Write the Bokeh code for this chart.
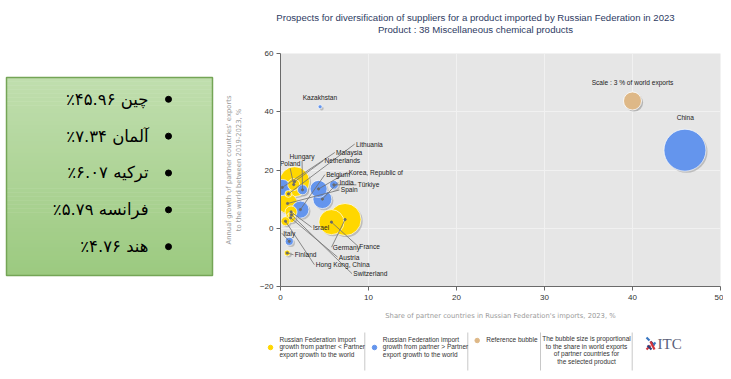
import math
from bokeh.plotting import figure
from bokeh.layouts import row, column
from bokeh.models import ColumnDataSource, Range1d, FixedTicker
from bokeh.embed import file_html
from bokeh.resources import INLINE
from bokeh.core.properties import value

# ---------------- data ----------------
TITLE_LINES = [
    "Prospects for diversification of suppliers for a product imported by Russian Federation in 2023",
    "Product : 38 Miscellaneous chemical products",
]
X_LABEL = "Share of partner countries in Russian Federation's imports, 2023, %"
Y_LABEL = "Annual growth of partner countries' exports\nto the world between 2019-2023, %"
X_TICKS = [0, 10, 20, 30, 40, 50]
Y_TICKS = [-20, 0, 20, 40, 60]

countries = ["China", "Germany", "Netherlands", "France", "Spain", "India", "Korea, Republic of",
             "Belgium", "Malaysia", "Poland", "Israel", "Hungary", "Austria", "Hong Kong, China",
             "Switzerland", "Türkiye", "Italy", "Lithuania", "Finland", "Kazakhstan"]
share_in_imports = [45.96, 7.34, 1.6, 5.79, 0.8, 4.76, 4.33, 2.26, 0.2, 1.5, 1.2, 2.5, 1.15, 0.57,
                    1.25, 6.07, 1.0, 0.9, 0.76, 4.5]
export_growth = [26.8, 3.0, 16.0, 2.1, 8.5, 10.0, 13.5, 6.4, 14.0, 15.0, 5.6, 13.2, 3.6, 2.4,
                 4.6, 14.9, -4.5, 11.8, -8.5, 41.7]
world_share = [16.3, 9.5, 8.3, 5.8, 3.7, 3.3, 2.7, 2.7, 2.4, 1.33, 1.33, 0.93, 0.93, 0.75,
               0.4, 0.7, 0.6, 0.45, 0.33, 0.15]
group = ["gt", "lt", "lt", "lt", "lt", "gt", "gt", "gt", "gt", "lt", "lt", "gt", "lt", "lt",
         "lt", "gt", "gt", "lt", "lt", "gt"]
# label anchor (data units) and style: "left" = leader line + left aligned, "top" = centred above
label_x = [46.0, 5.95, 5.01, 8.96, 6.85, 6.7, 7.75, 5.19, 6.32, 1.1, 3.69, 2.45, 6.63, 4.0,
           8.28, 8.77, 0.3, 8.58, 1.63, 4.48]
label_y = [37.9, -6.5, 23.2, -6.2, 13.15, 15.75, 19.2, 18.4, 26.0, 22.2, 0.35, 24.7, -9.9, -12.5,
           -15.6, 14.9, -1.7, 28.9, -9.1, 44.8]
label_mode = ["top", "left", "left", "left", "left", "left", "left", "left", "left", "center",
              "left", "center", "left", "left", "left", "left", "left", "left", "left", "top"]

REF_SHARE = 3.0
REF_X, REF_Y = 40.0, 43.7
REF_TEXT = "Scale : 3 % of world exports"

fa_names = ["چین", "آلمان", "ترکیه", "فرانسه", "هند"]
fa_values = [45.96, 7.34, 6.07, 5.79, 4.76]

LEGEND_1 = ["Russian Federation import", "growth from partner < Partner", "export growth to the world"]
LEGEND_2 = ["Russian Federation import", "growth from partner > Partner", "export growth to the world"]
LEGEND_3 = ["Reference bubble"]
LEGEND_4 = ["The bubble size is proportional", "to the share in world exports",
            "of partner countries for", "the selected product"]

# ---------------- style / layout (page pixels) ----------------
YELLOW = "#FFD700"
BLUE = "#6495ED"
TAN = "#DEB887"
COLORS = {"lt": YELLOW, "gt": BLUE}
NARROW = "'Liberation Sans Narrow', 'Liberation Sans', sans-serif"
REF_DIAM = 18.0

LEFT_W, RIGHT_W = 222, 501
FULL_W = LEFT_W + RIGHT_W
TITLE_H, MAIN_H, LEGEND_H = 40, 282, 56
BL, BR, BT, BB = 55, 3, 13, 35
FRAME_W = RIGHT_W - BL - BR
FRAME_H = MAIN_H - BT - BB
X0, X1 = 0, 50
Y0, Y1 = -20, 60
ROW_TOP = TITLE_H
LEG_TOP = TITLE_H + MAIN_H


def blank(w, h, xr, yr, **kw):
    f = figure(width=w, height=h, x_range=xr, y_range=yr, output_backend="svg",
               toolbar_location=None, x_axis_location=None, y_axis_location=None, **kw)
    f.grid.visible = False
    f.outline_line_color = None
    f.background_fill_color = "white"
    f.border_fill_color = "white"
    return f


# ---------------- left panel (Persian list) ----------------
left = blank(LEFT_W, MAIN_H, Range1d(0, LEFT_W),
             Range1d(ROW_TOP + MAIN_H - BB, ROW_TOP + BT),
             min_border_left=0, min_border_right=0, min_border_top=BT, min_border_bottom=BB)
bx0, bx1, by0, by1 = 6, 212, 77, 276
n_strips = 50
top_c = (192, 222, 174)
bot_c = (156, 202, 128)
qs = dict(left=[], right=[], top=[], bottom=[], color=[])
for i in range(n_strips):
    t = i / (n_strips - 1)
    c = tuple(int(round(top_c[k] + (bot_c[k] - top_c[k]) * t)) for k in range(3))
    qs["left"].append(bx0)
    qs["right"].append(bx1)
    qs["top"].append(by0 + (by1 - by0) * i / n_strips)
    qs["bottom"].append(by0 + (by1 - by0) * (i + 1) / n_strips + 0.5)
    qs["color"].append("#%02x%02x%02x" % c)
left.quad(left="left", right="right", top="top", bottom="bottom", color="color",
          source=ColumnDataSource(qs), line_color=None)
left.quad(left=[bx0], right=[bx1], top=[by0], bottom=[by1], fill_color=None,
          line_color="#74a556", line_width=1.5)

fa_digits = str.maketrans("0123456789", "۰۱۲۳۴۵۶۷۸۹")
fa_text = ["\u200f" + n + " " + f"{v:.2f}".translate(fa_digits) + "٪" + "\u200f"
           for n, v in zip(fa_names, fa_values)]
row_y = [99 + 37.0 * i for i in range(len(fa_names))]
left.scatter(x=[168] * len(row_y), y=row_y, size=6, color="black")
left.text(x=[148] * len(row_y), y=row_y, text=fa_text, text_align="right",
          text_baseline="middle", text_font=value("DejaVu Sans"), text_font_size="16.5px",
          text_color="black")

# ---------------- title ----------------
tfig = blank(FULL_W, TITLE_H, Range1d(0, FULL_W), Range1d(TITLE_H, 0), min_border=0)
tfig.text(x=[475, 475], y=[17, 29], text=TITLE_LINES, text_align="center", text_baseline="middle",
          text_font=value("Liberation Sans"), text_font_size="9.6px", text_color="#2e3b63")

# ---------------- main bubble chart ----------------
p = figure(width=RIGHT_W, height=MAIN_H, x_range=Range1d(X0, X1), y_range=Range1d(Y0, Y1),
           output_backend="svg", toolbar_location=None,
           min_border_left=BL, min_border_right=BR, min_border_top=BT, min_border_bottom=BB)
p.background_fill_color = "#e6e6e6"
p.border_fill_color = "white"
p.outline_line_color = None
p.grid.grid_line_color = "#f1f1f1"
p.grid.grid_line_width = 1
p.xaxis.ticker = FixedTicker(ticks=X_TICKS)
p.yaxis.ticker = FixedTicker(ticks=Y_TICKS)
for ax in (p.xaxis, p.yaxis):
    ax.minor_tick_line_color = None
    ax.major_tick_in = 0
    ax.major_tick_out = 4
    ax.major_tick_line_color = "#666666"
    ax.axis_line_color = "#6a6a6a"
    ax.major_label_text_font = NARROW
    ax.major_label_text_font_size = "8px"
    ax.major_label_text_color = "#333333"
    ax.axis_label_text_font = "DejaVu Sans"
    ax.axis_label_text_font_size = "6.8px"
    ax.axis_label_text_font_style = "normal"
    ax.axis_label_text_color = "#9a9a9a"
p.xaxis.axis_label = X_LABEL
p.yaxis.axis_label = Y_LABEL
p.xaxis.axis_label_standoff = 9
p.yaxis.axis_label_standoff = 14
p.xaxis.major_label_standoff = 4
p.yaxis.major_label_standoff = 3

sizes = [REF_DIAM * math.sqrt(w / REF_SHARE) for w in world_share]
order = sorted(range(len(countries)), key=lambda i: -sizes[i])
px_x = (X1 - X0) / FRAME_W
px_y = (Y1 - Y0) / FRAME_H
sh = 1.6
bub = ColumnDataSource(dict(
    x=[share_in_imports[i] for i in order],
    y=[export_growth[i] for i in order],
    sx=[share_in_imports[i] + sh * px_x for i in order],
    sy=[export_growth[i] - sh * px_y for i in order],
    size=[sizes[i] for i in order],
    color=[COLORS[group[i]] for i in order],
))
p.scatter(x=[REF_X + sh * px_x], y=[REF_Y - sh * px_y], size=REF_DIAM, fill_color="#8a8a8a",
          fill_alpha=0.55, line_color=None)
p.scatter(x="sx", y="sy", size="size", source=bub, fill_color="#8a8a8a", fill_alpha=0.45,
          line_color=None)
p.scatter(x=[REF_X], y=[REF_Y], size=REF_DIAM, fill_color=TAN, line_color="white",
          line_width=1, line_alpha=0.8)
p.scatter(x="x", y="y", size="size", source=bub, fill_color="color", line_color="white",
          line_width=0.8, line_alpha=0.85)

seg = dict(x0=[], y0=[], x1=[], y1=[])
for i in range(len(countries)):
    if label_mode[i] == "left":
        seg["x0"].append(share_in_imports[i]); seg["y0"].append(export_growth[i])
        seg["x1"].append(label_x[i] - 0.15); seg["y1"].append(label_y[i])
    elif label_mode[i] == "center":
        seg["x0"].append(share_in_imports[i]); seg["y0"].append(export_growth[i])
        seg["x1"].append(label_x[i]); seg["y1"].append(label_y[i] - 1.6)
p.segment(x0="x0", y0="y0", x1="x1", y1="y1", source=ColumnDataSource(seg),
          line_color="#6e6e6e", line_width=0.8)
dots = [i for i in range(len(countries)) if label_mode[i] in ("left", "center")]
p.scatter(x=[share_in_imports[i] for i in dots], y=[export_growth[i] for i in dots], size=2.2,
          color="#6a6a6a")

li = [i for i in range(len(countries)) if label_mode[i] == "left"]
p.text(x=[label_x[i] for i in li], y=[label_y[i] for i in li], text=[countries[i] for i in li],
       text_align="left", text_baseline="middle", text_font=value(NARROW),
       text_font_size="6.6px", text_color="#222222")
ci = [i for i in range(len(countries)) if label_mode[i] in ("center", "top")]
p.text(x=[label_x[i] for i in ci], y=[label_y[i] for i in ci], text=[countries[i] for i in ci],
       text_align="center", text_baseline="middle", text_font=value(NARROW),
       text_font_size="6.6px", text_color="#222222")
p.text(x=[REF_X], y=[REF_Y + 6.5], text=[REF_TEXT], text_align="center", text_baseline="middle",
       text_font=value(NARROW), text_font_size="6.6px", text_color="#222222")

# ---------------- legend strip (page pixel coordinates) ----------------
lg = blank(FULL_W, LEGEND_H, Range1d(0, FULL_W), Range1d(LEG_TOP + LEGEND_H, LEG_TOP),
           min_border=0)
lg.scatter(x=[270, 374, 476.7], y=[347, 347, 340], size=4.5, color=[YELLOW, BLUE, TAN])
sep_x = [364.3, 467.3, 540, 631.7]
lg.segment(x0=sep_x, y0=[332] * 4, x1=sep_x, y1=[370] * 4, line_color="#c8c8c8", line_width=1)
leg_src = dict(x=[], y=[], t=[])
for lines, x0 in ((LEGEND_1, 279), (LEGEND_2, 382.3), (LEGEND_3, 485.7)):
    for k, t in enumerate(lines):
        leg_src["x"].append(x0); leg_src["y"].append(339 + 7.3 * k); leg_src["t"].append(t)
lg.text(x="x", y="y", text="t", source=ColumnDataSource(leg_src), text_align="left",
        text_baseline="middle", text_font=value(NARROW), text_font_size="6.5px",
        text_color="#333333")
lg.text(x=[586] * len(LEGEND_4), y=[338.3 + 7.5 * k for k in range(len(LEGEND_4))],
        text=LEGEND_4, text_align="center", text_baseline="middle", text_font=value(NARROW),
        text_font_size="6.5px", text_color="#333333")
# ITC logo
lg.segment(x0=[646, 650, 646, 652], y0=[337, 341, 349, 345], x1=[649, 654, 650, 655],
           y1=[340, 345, 345, 342], line_color=["#3b78c2", "#2b3d7a", "#d2343c", "#3b78c2"],
           line_width=2.2)
lg.segment(x0=[650, 647], y0=[341, 345], x1=[654, 651], y1=[349, 349],
           line_color=["#d2343c", "#2b3d7a"], line_width=2.2)
lg.text(x=[657], y=[343.5], text=["ITC"], text_align="left", text_baseline="middle",
        text_font=value("Liberation Serif"), text_font_size="15px", text_color="#5b6179")

layout = column(tfig, row(left, p), lg)
open("out.html", "w").write(file_html(layout, INLINE))
